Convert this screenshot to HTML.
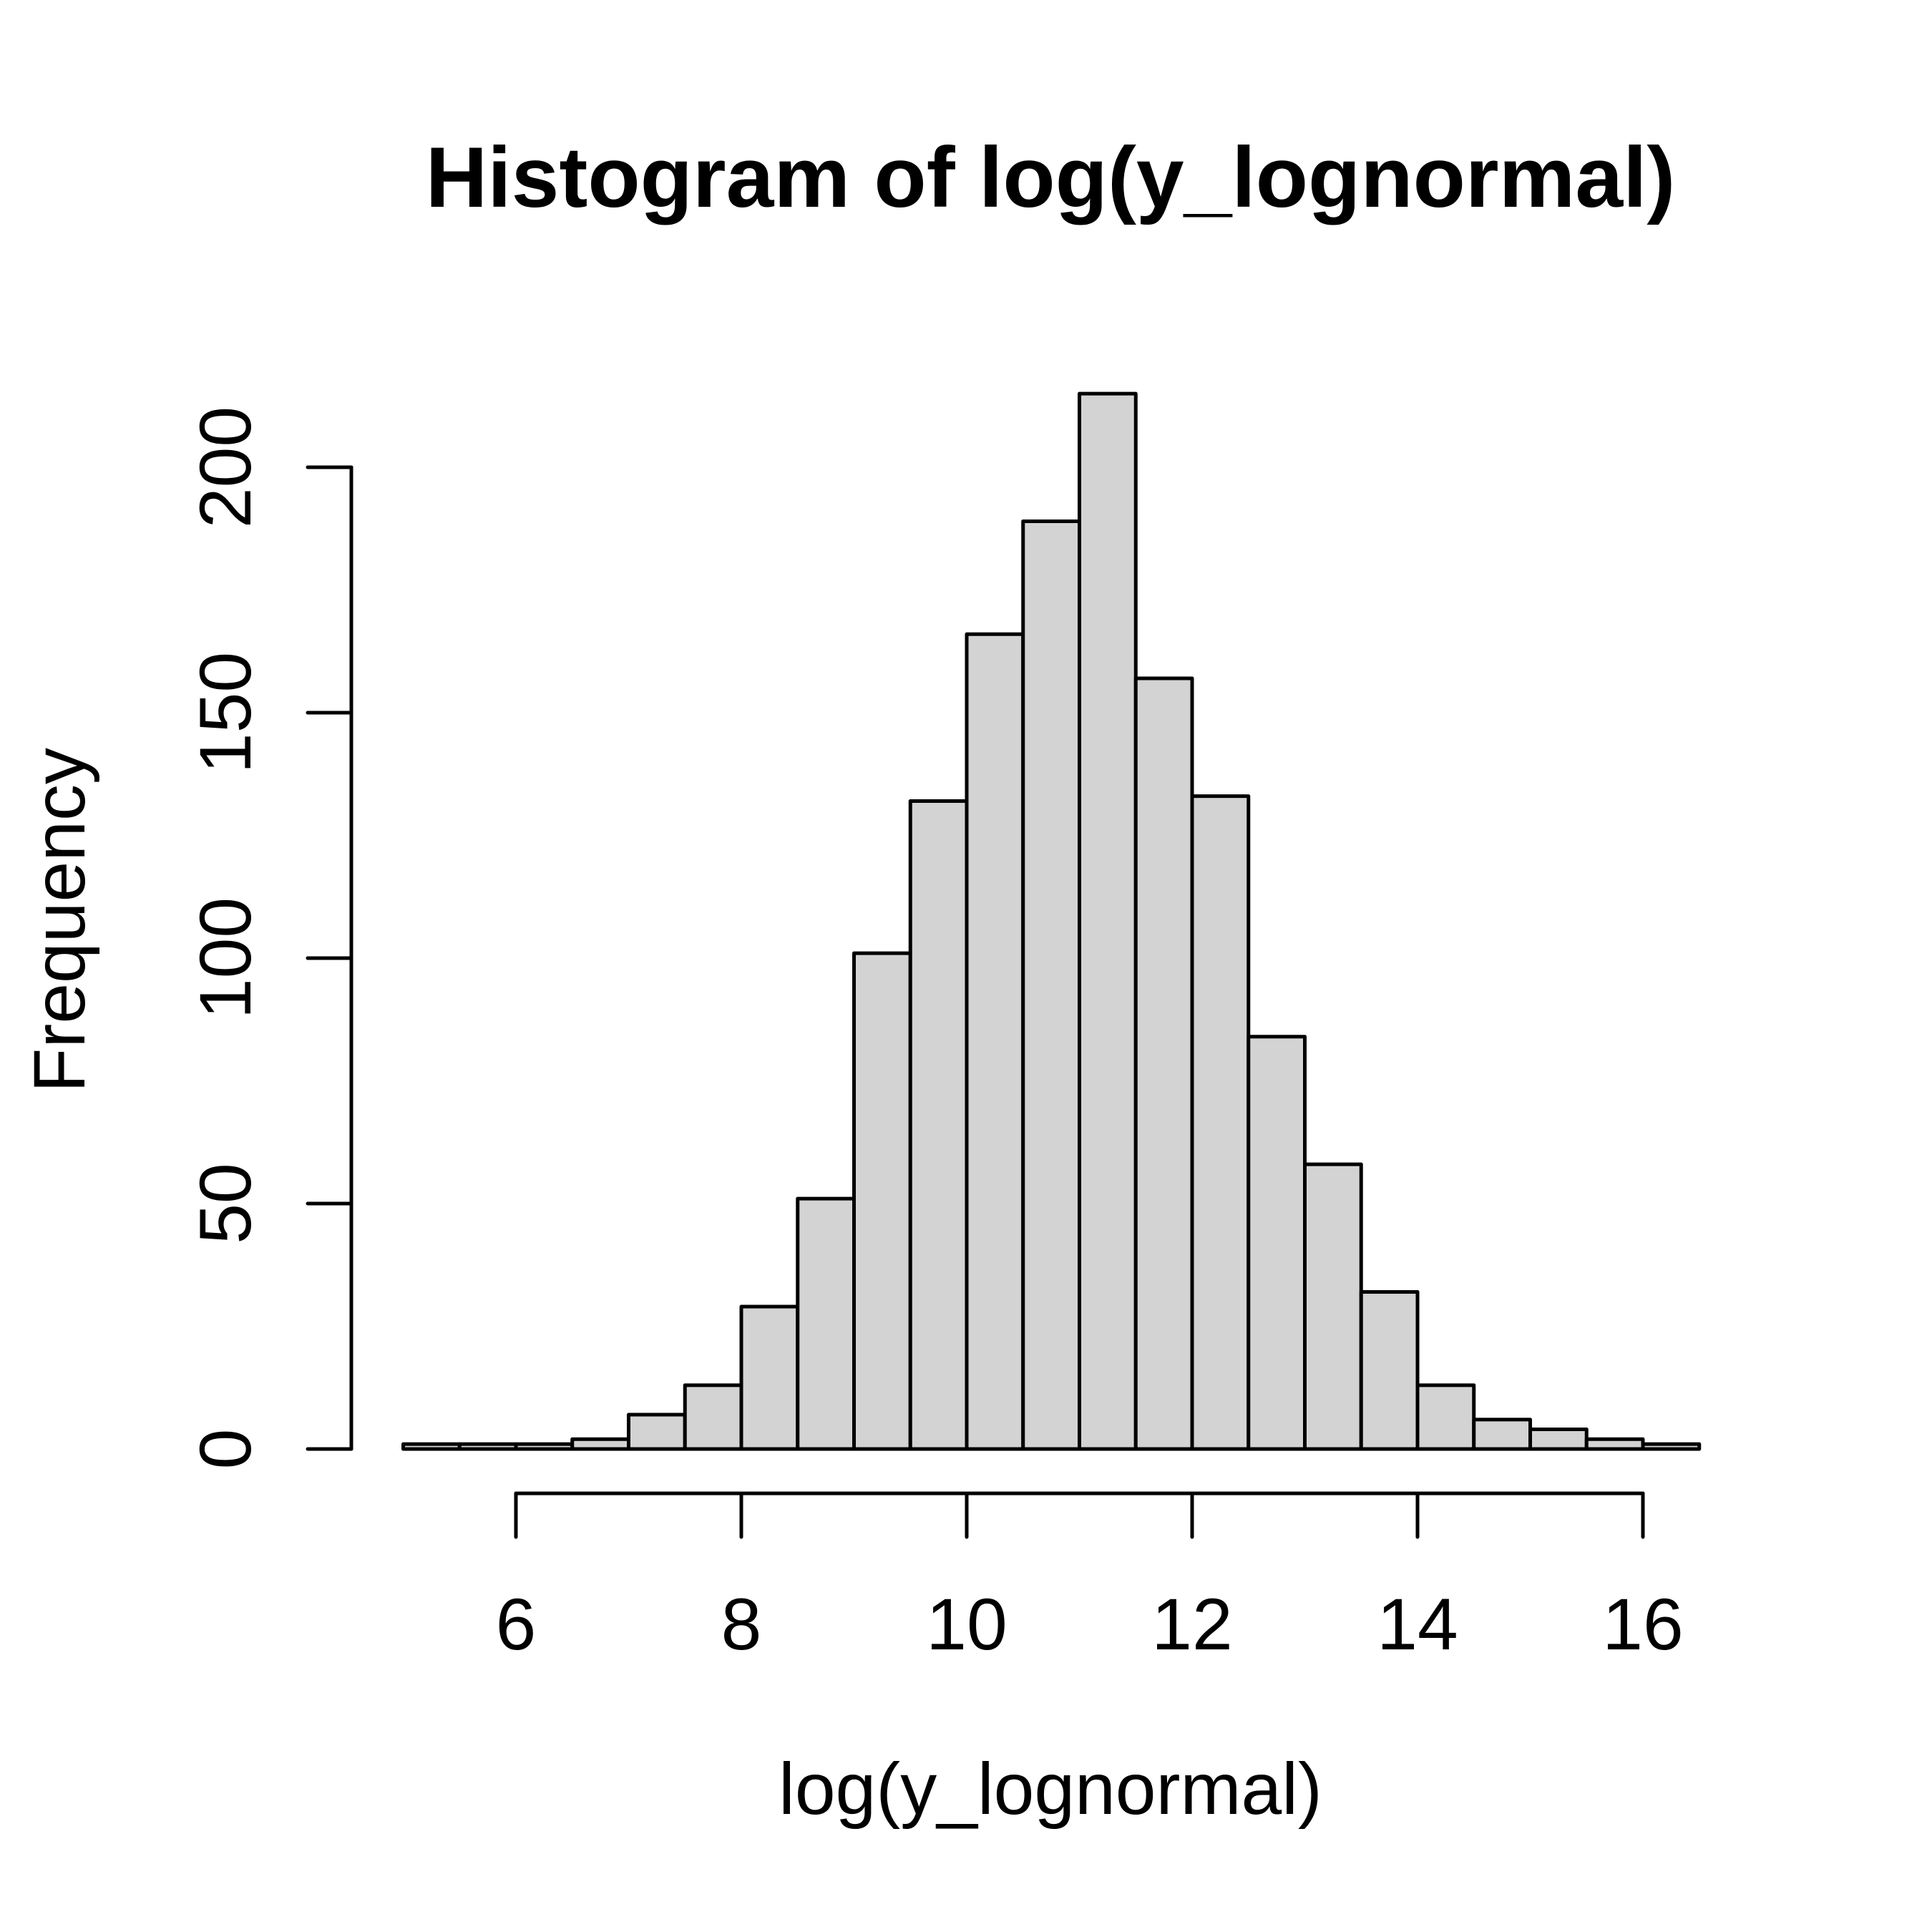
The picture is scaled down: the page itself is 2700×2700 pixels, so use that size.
<!DOCTYPE html>
<html>
<head>
<meta charset="utf-8">
<style>
  html, body { margin: 0; padding: 0; background: #ffffff; }
  svg { display: block; }
  text { font-family: "Liberation Sans", Arial, sans-serif; fill: #000; }
</style>
</head>
<body>
<svg id="chart" width="2700" height="2700" viewBox="0 0 2700 2700" xmlns="http://www.w3.org/2000/svg">
  <rect x="0" y="0" width="2700" height="2700" fill="#ffffff"/>
  <text x="1468" y="289" font-size="120" font-weight="bold" text-anchor="middle">Histogram of log(y_lognormal)</text>
  <text x="1468" y="2535" font-size="102" text-anchor="middle">log(y_lognormal)</text>
  <text x="0" y="0" font-size="102" text-anchor="middle" transform="translate(118,1286) rotate(-90)">Frequency</text>
  <g id="bars"></g>
  <g id="xaxis"></g>
  <g id="yaxis"></g>
</svg>
<script>
const binStart = 5;
const binWidth = 0.5;
const counts = [1, 1, 1, 2, 7, 13, 29, 51, 101, 132, 166, 189, 215, 157, 133, 84, 58, 32, 13, 6, 4, 2, 1];
const xTicks = [6, 8, 10, 12, 14, 16];
const yTicks = [0, 50, 100, 150, 200];

const NS = "http://www.w3.org/2000/svg";
function xs(v) { return 721 + (v - 6) * (2296 - 721) / 10; }
function ys(v) { return 2025 - v * (2025 - 653) / 200; }

const bars = document.getElementById('bars');
counts.forEach(function (c, i) {
  const x0 = xs(binStart + i * binWidth);
  const x1 = xs(binStart + (i + 1) * binWidth);
  const r = document.createElementNS(NS, 'rect');
  r.setAttribute('x', x0);
  r.setAttribute('y', ys(c));
  r.setAttribute('width', x1 - x0);
  r.setAttribute('height', ys(0) - ys(c));
  r.setAttribute('fill', '#d3d3d3');
  r.setAttribute('stroke', '#000');
  r.setAttribute('stroke-width', '5');
  r.setAttribute('stroke-linejoin', 'round');
  
  
  bars.appendChild(r);
});

const xa = document.getElementById('xaxis');
const xl = document.createElementNS(NS, 'line');
xl.setAttribute('x1', xs(xTicks[0]));
xl.setAttribute('x2', xs(xTicks[xTicks.length - 1]));
xl.setAttribute('y1', 2087);
xl.setAttribute('y2', 2087);
xl.setAttribute('stroke', '#000');
xl.setAttribute('stroke-width', '5');
xl.setAttribute('stroke-linecap', 'round');


xa.appendChild(xl);
xTicks.forEach(function (t) {
  const l = document.createElementNS(NS, 'line');
  l.setAttribute('x1', xs(t));
  l.setAttribute('x2', xs(t));
  l.setAttribute('y1', 2087);
  l.setAttribute('y2', 2148);
  l.setAttribute('stroke', '#000');
  l.setAttribute('stroke-width', '5');
  l.setAttribute('stroke-linecap', 'round');
  
  
  xa.appendChild(l);
  const tx = document.createElementNS(NS, 'text');
  tx.setAttribute('x', xs(t));
  tx.setAttribute('y', 2305);
  tx.setAttribute('font-size', '102');
  tx.setAttribute('text-anchor', 'middle');
  tx.textContent = String(t);
  
  
  xa.appendChild(tx);
});

const ya = document.getElementById('yaxis');
const yl = document.createElementNS(NS, 'line');
yl.setAttribute('x1', 491);
yl.setAttribute('x2', 491);
yl.setAttribute('y1', ys(yTicks[0]));
yl.setAttribute('y2', ys(yTicks[yTicks.length - 1]));
yl.setAttribute('stroke', '#000');
yl.setAttribute('stroke-width', '5');
yl.setAttribute('stroke-linecap', 'round');


ya.appendChild(yl);
yTicks.forEach(function (t) {
  const l = document.createElementNS(NS, 'line');
  l.setAttribute('x1', 430);
  l.setAttribute('x2', 491);
  l.setAttribute('y1', ys(t));
  l.setAttribute('y2', ys(t));
  l.setAttribute('stroke', '#000');
  l.setAttribute('stroke-width', '5');
  l.setAttribute('stroke-linecap', 'round');
  
  
  ya.appendChild(l);
  const tx = document.createElementNS(NS, 'text');
  tx.setAttribute('x', 0);
  tx.setAttribute('y', 0);
  tx.setAttribute('font-size', '102');
  tx.setAttribute('text-anchor', 'middle');
  tx.setAttribute('transform', 'translate(350,' + ys(t) + ') rotate(-90)');
  tx.textContent = String(t);
  
  
  ya.appendChild(tx);
});
</script>
</body>
</html>
